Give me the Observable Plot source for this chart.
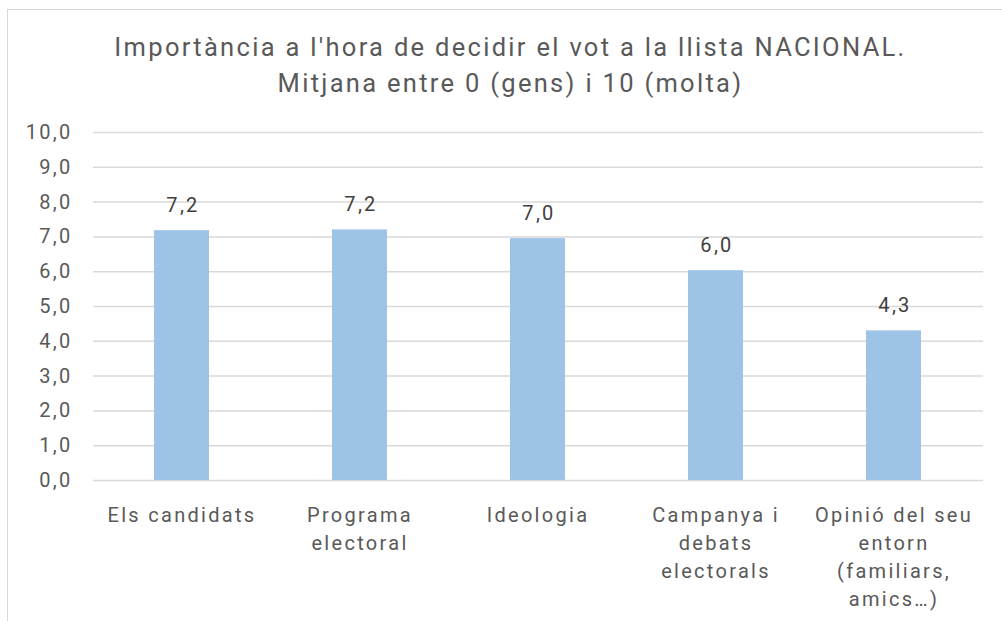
<!DOCTYPE html>
<html>
<head>
<meta charset="utf-8">
<script src="https://cdn.jsdelivr.net/npm/d3@7"></script>
<script src="https://cdn.jsdelivr.net/npm/@observablehq/plot@0.6"></script>
<style>
  html, body { margin: 0; padding: 0; background: #fff; overflow: hidden; }
  #frame { position: absolute; left: 7px; top: 9px; width: 1100px; height: 700px;
           border-left: 1.5px solid #d9d9d9; border-top: 1.5px solid #d9d9d9; }
  #chart { position: absolute; left: 0; top: 0; }
</style>
</head>
<body>
<div id="frame"></div>
<div id="chart"></div>
<script>
const categories = [
  "Els candidats",
  "Programa\nelectoral",
  "Ideologia",
  "Campanya i\ndebats\nelectorals",
  "Opinió del seu\nentorn\n(familiars,\namics…)"
];
const values = [7.18, 7.2, 6.95, 6.03, 4.3];
const valueLabels = ["7,2", "7,2", "7,0", "6,0", "4,3"];
const yTicks = [0, 1, 2, 3, 4, 5, 6, 7, 8, 9, 10];
const title = "Importància a l'hora de decidir el vot a la llista NACIONAL.\nMitjana entre 0 (gens) i 10 (molta)";

const data = categories.map((c, i) => ({cat: c, value: values[i], label: valueLabels[i]}));
const fmt = v => v.toFixed(1).replace(".", ",");
const font = "Roboto, 'DejaVu Sans', sans-serif";

const plot = Plot.plot({
  width: 1002,
  height: 621,
  marginLeft: 93,
  marginRight: 19,
  marginTop: 132,
  marginBottom: 141,
  style: {fontFamily: font, fontSize: "20px", color: "#595959", background: "transparent", overflow: "visible", letterSpacing: "2.3px"},
  x: {domain: categories, paddingInner: 0.69, paddingOuter: 0.345, label: null},
  y: {domain: [0, 10], label: null},
  marks: [
    Plot.gridY(yTicks, {stroke: "#d9d9d9", strokeOpacity: 1, strokeWidth: 1.5}),
    Plot.axisY(yTicks, {tickSize: 0, tickPadding: 21, tickFormat: fmt, fontSize: 20, fill: "#595959", label: null}),
    Plot.axisX({tickSize: 0, tickPadding: 22, fontSize: 20, fill: "#595959", lineHeight: 1.4, label: null}),
    Plot.barY(data, {x: "cat", y: "value", fill: "#9dc3e6"}),
    Plot.text(data, {x: "cat", y: "value", text: "label", dy: -25, fontSize: 20, fill: "#404040", dx: 1}),
    Plot.text([title], {
      text: d => d, frameAnchor: "top", lineAnchor: "top",
      dx: -28, dy: -102, lineHeight: 1.42,
      fontSize: 25.5, fill: "#595959"
    })
  ]
});
document.getElementById("chart").appendChild(plot);
</script>
</body>
</html>
